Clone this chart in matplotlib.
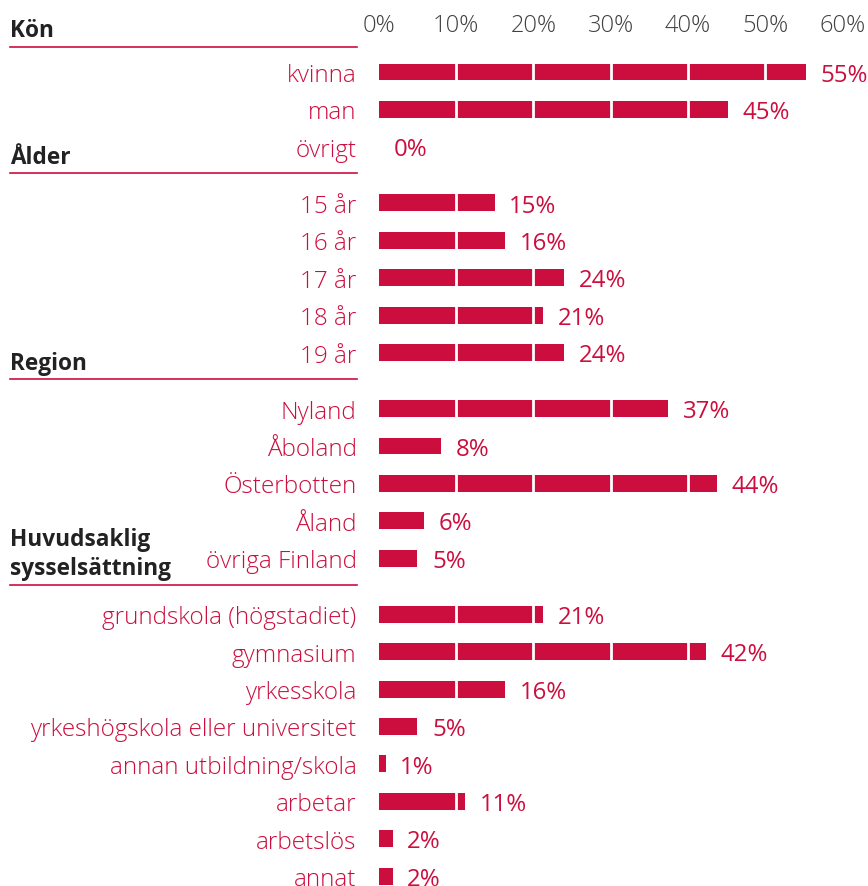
import numpy as np
import matplotlib.pyplot as plt
from matplotlib import transforms

# data
groups = ["Kön", "Ålder", "Region", "Huvudsaklig\nsysselsättning"]
labels_kon = ["kvinna", "man", "övrigt"]
values_kon = [55.3, 45.2, 0.0]
labels_alder = ["15 år", "16 år", "17 år", "18 år", "19 år"]
values_alder = [15.0, 16.3, 24.0, 21.3, 24.0]
labels_region = ["Nyland", "Åboland", "Österbotten", "Åland", "övriga Finland"]
values_region = [37.4, 8.1, 43.8, 5.8, 5.0]
labels_syss = ["grundskola (högstadiet)", "gymnasium", "yrkesskola",
               "yrkeshögskola eller universitet", "annan utbildning/skola",
               "arbetar", "arbetslös", "annat"]
values_syss = [21.3, 42.3, 16.3, 5.0, 0.9, 11.2, 1.8, 1.8]
xticks = [0, 10, 20, 30, 40, 50, 60]

red = "#CC0E3E"
plt.rcParams['font.family'] = ['Open Sans', 'DejaVu Sans']

fig = plt.figure(figsize=(8.68, 8.87), dpi=100)
W, H = 868, 887
ax = fig.add_axes([378.8 / W, 0, (842.6 - 378.8) / W, 1 - 45 / H])

all_labels = []
all_values = []
ypos = []
group_first = []
r = 0.0
for lab, val in zip([labels_kon, labels_alder, labels_region, labels_syss],
                    [values_kon, values_alder, values_region, values_syss]):
    group_first.append(r)
    for l, v in zip(lab, val):
        all_labels.append(l)
        all_values.append(v)
        ypos.append(r)
        r += 1
    r += 0.5

step = 37.4
ax.set_ylim((H - 73) / step, -(73 - 45) / step)
ax.set_xlim(0, 60)

ax.barh(ypos, all_values, height=0.45, color=red, zorder=2)
for x in xticks[1:-1]:
    ax.axvline(x, color="white", lw=2.0, zorder=3)

for y, v in zip(ypos, all_values):
    ax.annotate(f"{v:.0f}%", (v, y), xytext=(10.5, -6.2), textcoords="offset points",
                va="baseline", ha="left", color=red, fontsize=17.3)

ax.set_yticks(ypos, all_labels)
ax.tick_params(axis="y", length=0, pad=16, labelsize=17.5, labelcolor=red)
for t in ax.get_yticklabels():
    t.set_fontweight("light")
ax.xaxis.tick_top()
ax.set_xticks(xticks, [f"{x}%" for x in xticks])
ax.tick_params(axis="x", length=0, pad=5, labelsize=17, labelcolor="#404040")
for t in ax.get_xticklabels():
    t.set_fontweight("light")
for s in ax.spines.values():
    s.set_visible(False)

# group headers with underline
trans = transforms.blended_transform_factory(fig.transFigure, ax.transData)
for i, (g, y0) in enumerate(zip(groups, group_first)):
    yl = y0 - (0.68 if i == 0 else 0.79)
    ax.plot([10 / W, 357 / W], [yl, yl], color=red, lw=1.2, transform=trans, clip_on=False)
    ax.text(10 / W, yl - 0.12, g, transform=trans, ha="left", va="bottom",
            fontsize=16.3, fontweight="bold", color="#222222", linespacing=1.3)

fig.savefig("out.png", dpi=100)
